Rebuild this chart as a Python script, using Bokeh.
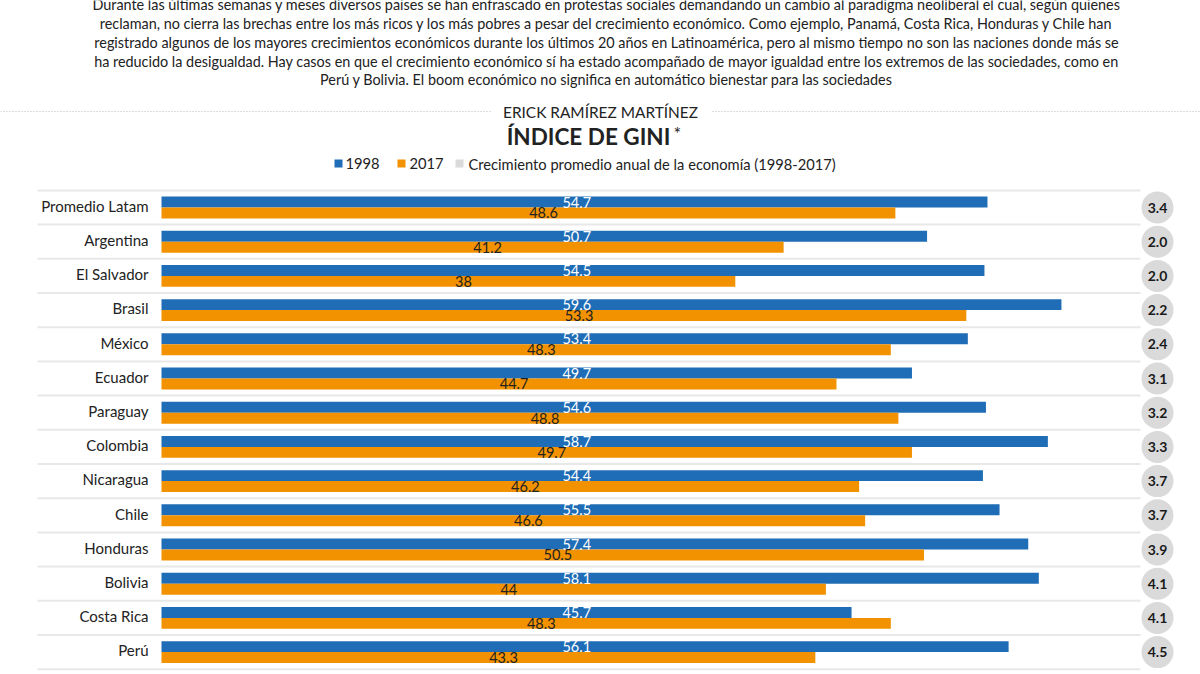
from bokeh.plotting import figure
from bokeh.models import Range1d, Label, ColumnDataSource
from bokeh.embed import file_html
from bokeh.resources import INLINE
from bokeh.core.properties import value

# ---------------- data ----------------
countries = ["Promedio Latam", "Argentina", "El Salvador", "Brasil", "México", "Ecuador",
             "Paraguay", "Colombia", "Nicaragua", "Chile", "Honduras", "Bolivia",
             "Costa Rica", "Perú"]
gini_1998 = [54.7, 50.7, 54.5, 59.6, 53.4, 49.7, 54.6, 58.7, 54.4, 55.5, 57.4, 58.1, 45.7, 56.1]
gini_2017 = [48.6, 41.2, 38, 53.3, 48.3, 44.7, 48.8, 49.7, 46.2, 46.6, 50.5, 44, 48.3, 43.3]
growth = [3.4, 2.0, 2.0, 2.2, 2.4, 3.1, 3.2, 3.3, 3.7, 3.7, 3.9, 4.1, 4.1, 4.5]
legend_labels = ["1998", "2017", "Crecimiento promedio anual de la economía (1998-2017)"]

intro = [
    "Durante las últimas semanas y meses diversos países se han enfrascado en protestas sociales demandando un cambio al paradigma neoliberal el cual, según quienes",
    "reclaman, no cierra las brechas entre los más ricos y los más pobres a pesar del crecimiento económico. Como ejemplo, Panamá, Costa Rica, Honduras y Chile han",
    "registrado algunos de los mayores crecimientos económicos durante los últimos 20 años en Latinoamérica, pero al mismo tiempo no son las naciones donde más se",
    "ha reducido la desigualdad. Hay casos en que el crecimiento económico sí ha estado acompañado de mayor igualdad entre los extremos de las sociedades, como en",
    "Perú y Bolivia. El boom económico no significa en automático bienestar para las sociedades",
]
author = "ERICK RAMÍREZ MARTÍNEZ"
title = "ÍNDICE DE GINI"

# ---------------- style ----------------
BLUE = "#1f6db6"
ORANGE = "#f39200"
GREY = "#dadada"
SEP = "#e8e8e8"
TXT = "#222222"
FONT = "Lato"

W, H = 1200, 674
X0, SX = 161.0, 15.1   # pixel of value 0, px per Gini unit
Y0, SY = 207.0, 34.2   # pixel of row 0 centre, px per row


def dx(px):
    return (px - X0) / SX


def dy(py):
    return (py - Y0) / SY


def sy(py):
    return H - py


n = len(countries)
idx = list(range(n))

p = figure(width=W, height=H, output_backend="svg", toolbar_location=None,
           x_range=Range1d(-X0 / SX, (W - X0) / SX),
           y_range=Range1d((H - Y0) / SY, -Y0 / SY),
           x_axis_location=None, y_axis_location=None, min_border=0,
           outline_line_color=None, background_fill_color="white",
           border_fill_color="white")
p.grid.visible = False

# row separators
sep_y = [i - 0.5 for i in idx] + [n - 0.5]
p.segment(x0=dx(37), x1=dx(1140), y0=sep_y, y1=sep_y, line_color=SEP, line_width=2)

src = ColumnDataSource(dict(
    y1=[i - 0.16 for i in idx],
    y2=[i + 0.16 for i in idx],
    yc=[i - 0.05 for i in idx],
    yg=idx,
    c=countries,
    v1=gini_1998,
    v2=gini_2017,
    t1=[f"{v:g}" for v in gini_1998],
    t2=[f"{v:g}" for v in gini_2017],
    x2=[v / 2 + 1 for v in gini_2017],
    g=growth,
    tg=[f"{v:.1f}" for v in growth],
))

p.hbar(y="y1", left=0, right="v1", height=0.32, source=src, fill_color=BLUE, line_color=None)
p.hbar(y="y2", left=0, right="v2", height=0.32, source=src, fill_color=ORANGE, line_color=None)

p.text(x=27.5, y="y1", text="t1", source=src, text_color="white", text_font=value(FONT),
       text_font_size="14.5px", text_align="center", text_baseline="middle")
p.text(x="x2", y="y2", text="t2", source=src, text_color=TXT, text_font=value(FONT),
       text_font_size="14.5px", text_align="center", text_baseline="middle")

# country names
p.text(x=dx(148), y="yc", text="c", source=src, text_color=TXT, text_font=value(FONT),
       text_font_size="15px", text_align="right", text_baseline="middle")

# growth circles
p.scatter(x=dx(1157), y="yg", source=src, marker="circle", size=32,
          fill_color=GREY, line_color=None)
p.text(x=dx(1157), y="yg", text="tg", source=src, text_color="#1a1a1a", text_font=value(FONT),
       text_font_style="bold", text_font_size="14px", text_align="center",
       text_baseline="middle")

# ---------------- header ----------------
for line, ry in zip(intro, [4, 23, 42, 61, 79]):
    p.add_layout(Label(x=606, y=sy(ry), x_units="screen", y_units="screen", text=line,
                       text_font=FONT, text_font_size="14.4px", text_color=TXT,
                       text_align="center", text_baseline="middle"))

# dotted rule with author
p.segment(x0=[dx(0), dx(712)], x1=[dx(490), dx(1200)], y0=dy(111), y1=dy(111),
          line_color="#bdbdbd", line_width=1, line_dash="1 2")
p.add_layout(Label(x=600, y=sy(111), x_units="screen", y_units="screen", text=author,
                   text_font=FONT, text_font_size="15.4px", text_color=TXT,
                   text_align="center", text_baseline="middle"))
p.add_layout(Label(x=588, y=sy(136), x_units="screen", y_units="screen", text=title,
                   text_font=FONT, text_font_size="22.5px", text_font_style="bold",
                   text_color=TXT, text_align="center", text_baseline="middle"))
p.add_layout(Label(x=673, y=sy(132), x_units="screen", y_units="screen", text="*",
                   text_font=FONT, text_font_size="18px", text_color=TXT,
                   text_align="left", text_baseline="middle"))

# legend
leg_sq = [338, 401, 459]
leg_tx = [345, 409, 468]
p.scatter(x=[dx(v) for v in leg_sq], y=dy(163), marker="square", size=8,
          fill_color=[BLUE, ORANGE, GREY], line_color=None)
for t, lx in zip(legend_labels, leg_tx):
    p.add_layout(Label(x=lx, y=sy(163), x_units="screen", y_units="screen", text=t,
                       text_font=FONT, text_font_size="14.7px", text_color=TXT,
                       text_align="left", text_baseline="middle"))

open("out.html", "w").write(file_html(p, INLINE))
